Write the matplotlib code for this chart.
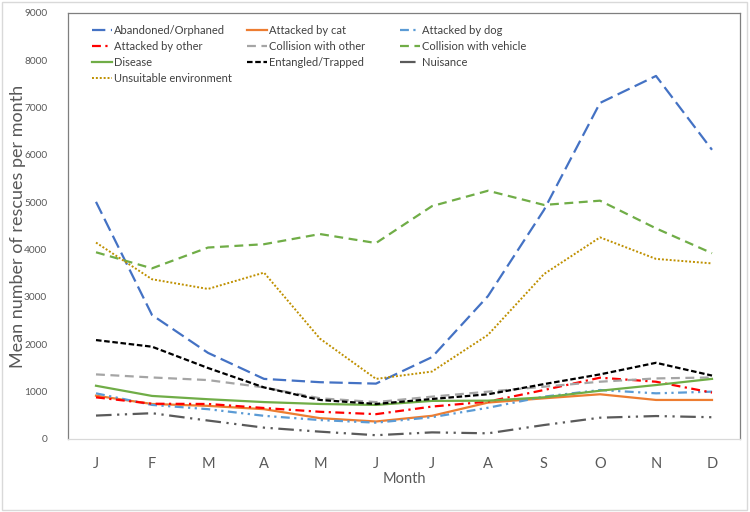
import numpy as np
import matplotlib.pyplot as plt
from matplotlib.patches import Rectangle
from matplotlib.legend import Legend

plt.rcParams['font.family'] = ['Lato', 'DejaVu Sans']

months = ['J', 'F', 'M', 'A', 'M', 'J', 'J', 'A', 'S', 'O', 'N', 'D']

abandoned = [5010, 2620, 1820, 1270, 1200, 1170, 1730, 3020, 4840, 7100, 7670, 6110]
att_cat = [915, 740, 700, 630, 440, 370, 490, 770, 860, 945, 825, 825]
att_dog = [965, 720, 630, 490, 400, 345, 460, 660, 895, 1035, 965, 1000]
att_other = [880, 745, 740, 655, 575, 525, 685, 790, 1035, 1295, 1210, 980]
coll_other = [1365, 1300, 1245, 1090, 860, 780, 895, 1000, 1105, 1210, 1280, 1300]
coll_vehicle = [3945, 3605, 4045, 4115, 4330, 4140, 4920, 5245, 4945, 5035, 4450, 3925]
disease = [1125, 910, 840, 780, 740, 720, 805, 810, 880, 1020, 1140, 1270]
entangled = [2090, 1950, 1500, 1090, 825, 740, 845, 945, 1160, 1365, 1610, 1340]
nuisance = [495, 545, 390, 240, 155, 80, 140, 120, 295, 450, 485, 460]
unsuitable = [4150, 3375, 3170, 3515, 2120, 1270, 1425, 2200, 3485, 4260, 3805, 3710]

fig = plt.figure(figsize=(7.5, 5.12), dpi=100)
ax = fig.add_axes([68/750, 1-439/512, 672/750, 426/512])

x = np.arange(len(months))

# (label, values, color, dashes, width)
series = [
    ('Abandoned/Orphaned', abandoned, '#4472C4', (6, 2.5), 1.6),
    ('Attacked by cat', att_cat, '#ED7D31', None, 1.6),
    ('Attacked by dog', att_dog, '#5B9BD5', (4, 2, 1, 2, 1, 2), 1.6),
    ('Attacked by other', att_other, '#FF0000', (4, 2, 1, 2), 1.6),
    ('Collision with other', coll_other, '#A5A5A5', (4, 2.5), 1.6),
    ('Collision with vehicle', coll_vehicle, '#70AD47', (4, 2.5), 1.6),
    ('Disease', disease, '#70AD47', None, 1.6),
    ('Entangled/Trapped', entangled, '#000000', (2.5, 1.2), 1.6),
    ('Nuisance', nuisance, '#5A5A5A', (7, 2.5, 1, 2.5, 1, 2.5), 1.6),
    ('Unsuitable environment', unsuitable, '#BF9000', (1, 1), 1.4),
]

handles = {}
for label, vals, col, dash, lw in series:
    ln, = ax.plot(x, vals, color=col, lw=lw, label=label)
    if dash is not None:
        ln.set_dashes(dash)
    handles[label] = ln

ax.set_xlim(-0.5, 11.5)
ax.set_ylim(0, 9000)
ax.set_yticks(np.arange(0, 9001, 1000))
ax.set_xticks(x)
ax.set_xticklabels(months)
ax.tick_params(axis='y', length=0, pad=15, labelsize=7.3, labelcolor='#595959')
ax.tick_params(axis='x', length=0, pad=13, labelsize=10.5, labelcolor='#595959')

for s in ['left', 'right', 'top']:
    ax.spines[s].set_color('#7F7F7F')
    ax.spines[s].set_linewidth(0.9)
ax.spines['bottom'].set_color('#D9D9D9')
ax.spines['bottom'].set_linewidth(0.9)

ax.set_xlabel('Month', fontsize=10.5, color='#595959', labelpad=1)
ax.set_ylabel('Mean number of rescues per month', fontsize=13, color='#595959')
ax.yaxis.set_label_coords(-0.063, 0.5)

# legend in three columns, laid out like the Excel one
cols = [
    (['Abandoned/Orphaned', 'Attacked by other', 'Disease', 'Unsuitable environment'], 0.036),
    (['Attacked by cat', 'Collision with other', 'Entangled/Trapped'], 0.266),
    (['Attacked by dog', 'Collision with vehicle', 'Nuisance'], 0.494),
]
for names, xpos in cols:
    leg = Legend(ax, [handles[n] for n in names], names, loc='upper left',
                 bbox_to_anchor=(xpos, 0.972), frameon=False, fontsize=8,
                 borderpad=0, borderaxespad=0, handlelength=1.8,
                 handletextpad=0.2, labelspacing=0.45)
    for t in leg.get_texts():
        t.set_color('#404040')
    ax.add_artist(leg)

fig.patches.append(Rectangle((0.002, 0.004), 0.994, 0.993, transform=fig.transFigure,
                             fill=False, edgecolor='#D9D9D9', lw=1))

fig.savefig('out.png', dpi=100)
